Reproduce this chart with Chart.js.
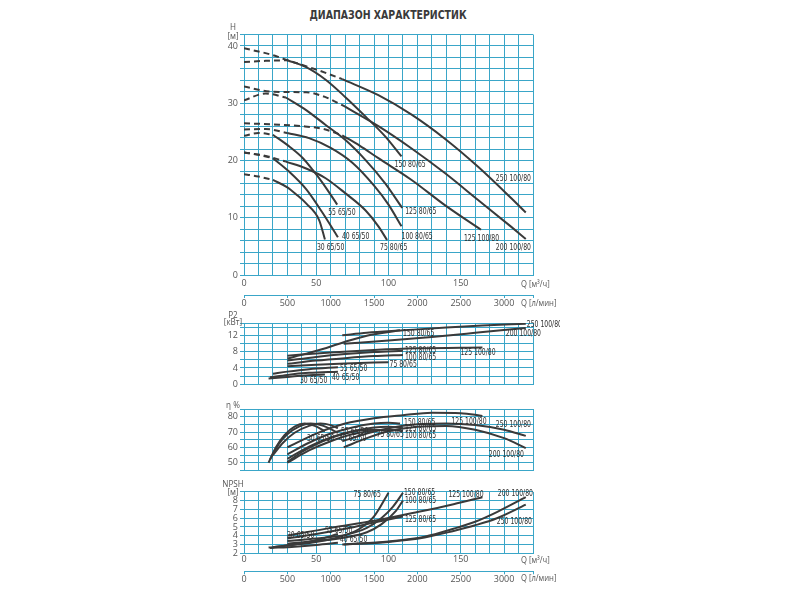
<!DOCTYPE html>
<html>
<head>
<meta charset="utf-8">
<script src="https://cdn.jsdelivr.net/npm/chart.js@4.4.1/dist/chart.umd.min.js"></script>
<style>
  body { margin: 0; background: #fff; }
  #wrap { position: relative; width: 800px; height: 600px; overflow: hidden; }
  canvas { position: absolute; left: 190px; }
  #title { position: absolute; left: 238px; width: 300px; top: 8px; text-align: center;
           font: bold 12px 'Liberation Sans Narrow', 'DejaVu Sans Condensed', sans-serif; color: #3a3a3a;
           transform: scaleX(0.87); }
</style>
</head>
<body>
<div id="wrap">
  <div id="title">ДИАПАЗОН ХАРАКТЕРИСТИК</div>
  <canvas id="hChart" width="370" height="312" style="top:0"></canvas>
  <canvas id="pChart" width="370" height="90" style="top:305px"></canvas>
  <canvas id="etaChart" width="370" height="85" style="top:395px"></canvas>
  <canvas id="npshChart" width="370" height="122" style="top:478px"></canvas>
</div>
<script>
var MODELS = ['30 65/50', '40 65/50', '55 65/50', '75 80/65', '100 80/65',
              '125 80/65', '150 80/65', '125 100/80', '200 100/80', '250 100/80'];

// Q-H, working range (m3/h, m)
var H_Q = [[20, 30, 36, 43, 52, 56], [20, 31, 43, 54, 65], [20, 31.6, 40.8, 47.7, 54.6, 64.5],
           [29, 43, 56.5, 70, 84, 93, 99], [30, 45, 60, 75, 90, 100, 109],
           [29, 43, 56.5, 70, 84, 97.7, 109.5], [30, 43, 56.5, 70, 84, 97.7, 109],
           [68, 80, 93, 116, 139, 164], [70, 93, 116, 139, 162, 185, 195],
           [68, 93, 116, 139, 162, 185, 195]];
var H_VAL = [[16.6, 15.3, 14.1, 12.5, 9.6, 6.2], [20.4, 18.1, 15.0, 11.0, 6.6], [24.5, 22.4, 20.4, 18.3, 16.0, 12.3],
             [19.8, 18.6, 16.9, 14.3, 11.3, 8.5, 6.1], [24.8, 23.9, 22.2, 19.6, 15.6, 12.3, 8.5],
             [31.0, 28.8, 26.2, 23.6, 20.1, 16.0, 11.7], [37.5, 36.3, 34.1, 31.1, 27.7, 24.2, 20.7],
             [24.4, 22.6, 20.4, 16.6, 12.2, 7.9], [29.4, 26.0, 22.1, 17.8, 13.1, 8.4, 6.3],
             [34.2, 31.4, 28.0, 23.8, 18.9, 13.4, 10.9]];
// Q-H, dashed start of each curve
var H_DASH_Q = [[0, 10, 20], [0, 10, 20], [0, 10, 20], [0, 15, 29], [0, 15, 30], [0, 15, 29],
                [0, 15, 30], [0, 20, 40, 55, 68], [0, 20, 43, 56, 70], [0, 20, 29, 45, 56.5, 68]];
var H_DASH_VAL = [[17.6, 17.2, 16.6], [21.4, 21.0, 20.4], [24.3, 24.8, 24.5], [21.4, 20.8, 19.8],
                  [25.4, 25.5, 24.8], [30.5, 31.7, 31.0], [37.2, 37.4, 37.5],
                  [26.5, 26.3, 26.0, 25.5, 24.4], [32.9, 32.0, 31.9, 31.1, 29.4],
                  [39.6, 38.4, 37.6, 36.3, 35.3, 34.2]];

// Q-P2 (kW)
var P2_Q = [[17, 30, 45, 56], [18, 30, 45, 65], [20, 30, 45, 65], [30, 50, 70, 100],
            [30, 50, 70, 90, 110], [30, 50, 70, 90, 110], [30, 43, 57, 69, 85, 108],
            [30, 60, 90, 120, 165], [69, 100, 130, 160, 195], [68, 85, 110, 140, 165, 195]];
var P2_VAL = [[1.4, 1.8, 2.2, 2.4], [1.7, 2.3, 2.8, 3.1], [2.6, 3.1, 3.7, 4.2], [4.4, 4.8, 5.1, 5.4],
              [5.0, 5.8, 6.4, 6.9, 7.2], [5.8, 6.7, 7.4, 7.9, 8.2], [6.3, 7.5, 8.9, 10.3, 11.9, 13.2],
              [7.0, 7.8, 8.4, 8.8, 9.0], [9.9, 10.7, 11.6, 12.6, 13.8], [12.0, 12.6, 13.2, 13.9, 14.4, 14.8]];

// Q-efficiency (%)
var ETA_Q = [[17, 22, 28, 35, 42, 49, 56], [18, 24, 30, 38, 46, 55, 65], [20, 27, 35, 45, 53, 60, 65],
             [30, 40, 50, 60, 70, 80, 90, 100], [30, 45, 60, 75, 90, 100, 110],
             [30, 45, 60, 75, 90, 100, 110], [30, 45, 60, 75, 90, 100, 108],
             [30, 50, 70, 90, 110, 130, 150, 165], [69, 85, 100, 120, 140, 160, 180, 195],
             [68, 85, 100, 120, 140, 160, 180, 195]];
var ETA_VAL = [[50, 60, 68, 73.5, 75.5, 74, 70.5], [52, 62, 68.5, 73.5, 75.5, 74, 69.5],
               [55, 63, 69.5, 74, 75.5, 74.5, 72.5], [50.5, 57, 62, 66, 69, 71, 71.5, 70.5],
               [50, 58, 64, 68.5, 71, 71.5, 70.5], [52.5, 60.5, 66.5, 70.5, 73, 73.5, 72.5],
               [55.5, 63, 69, 73, 75.5, 76, 75.5], [60, 69, 75.5, 79, 81, 82.6, 82.3, 80.5],
               [60, 66, 70.5, 73.5, 74, 71.5, 66, 59.5], [64, 69, 72.5, 75, 75.5, 74.5, 71.5, 67.5]];

// Q-NPSH (m)
var NPSH_Q = [[17, 30, 45, 56], [18, 35, 50, 65], [20, 35, 50, 65], [30, 50, 65, 80, 90, 100],
              [30, 50, 70, 85, 95, 105, 110], [30, 50, 70, 90, 110], [30, 50, 70, 85, 95, 103, 110],
              [30, 60, 90, 120, 145, 165], [69, 100, 125, 145, 160, 175, 195],
              [68, 100, 125, 145, 160, 175, 195]];
var NPSH_VAL = [[2.65, 2.9, 3.3, 3.7], [2.6, 2.75, 2.95, 3.2], [2.7, 3.0, 3.5, 4.2], [2.9, 3.3, 3.8, 4.8, 6.2, 8.9],
                [3.1, 3.4, 3.8, 4.4, 5.3, 6.8, 8.0], [3.7, 4.2, 4.8, 5.5, 6.2], [3.4, 3.7, 4.1, 4.9, 6.0, 7.3, 8.9],
                [4.0, 4.9, 5.7, 6.7, 7.6, 8.4], [3.0, 3.35, 3.9, 4.8, 5.6, 6.7, 8.4],
                [3.0, 3.3, 3.8, 4.55, 5.2, 6.0, 7.55]];

// tick labels
var Q_TICKS = [0, 50, 100, 150];
var QL_TICKS = [0, 500, 1000, 1500, 2000, 2500, 3000];
var H_TICKS = [0, 10, 20, 30, 40];
var P2_TICKS = [0, 4, 8, 12];
var ETA_TICKS = [50, 60, 70, 80];
var NPSH_TICKS = [2, 3, 4, 5, 6, 7, 8];

// where each curve name sits, px from the curve end
var H_LBL = [[-8, 8], [4, 0], [-9, 8], [-7, 8], [0, 10], [3, 4], [-7, 8], [-17, 9], [-30, 9], [-30, -34]];
var P2_LBL = [[-25, 6], [-6, 6], [2, 2], [1, 3], [2, 3], [2, 0], [3, 3], [-22, 5], [-20, 6], [1, 1]];
var ETA_LBL = [[-18, 8], [1, 6], [3, 4], [-12, 4], [2, 5], [2, 1], [4, -1], [-31, 6], [-37, 7], [-30, -11]];
var NPSH_LBL = [[-38, -3], [2, -3], [-13, -3], [-35, 2], [2, 0], [2, 3], [1, 0], [-34, -2], [-28, -3], [-29, 17]];

var GRID = '#3aa6c8';
var LINE = '#3a3a3a';
var TICK = '#555';
var SANS = "'Open Sans', 'DejaVu Sans', sans-serif";
var NARROW = "'Liberation Sans Narrow', 'DejaVu Sans Condensed', sans-serif";
var TICK_FONT = { family: SANS, size: 9 };

function gridSteps(min, max, step) {
    var t = [];
    for (var v = min; v < max + 1e-6; v += step) t.push({ value: Math.round(v * 1000) / 1000 });
    if (t[t.length - 1].value < max) t.push({ value: max });
    return t;
}

function curveSets(qs, vals, dash) {
    return qs.map(function (q, i) {
        return {
            data: q.map(function (x, k) { return { x: x, y: vals[i][k] }; }),
            borderColor: LINE,
            borderWidth: 2,
            borderDash: dash ? [6, 4] : [],
            pointRadius: 0,
            cubicInterpolationMode: 'monotone',
            fill: false
        };
    });
}

function narrowText(ctx, text, x, y, sx) {
    ctx.save();
    ctx.translate(x, y);
    ctx.scale(sx, 1);
    ctx.fillText(text, 0, 0);
    ctx.restore();
}

// curve names + axis unit text
function textPlugin(qs, vals, offs, units, qUnitY) {
    return {
        id: 'curveText',
        afterDatasetsDraw: function (chart) {
            var ctx = chart.ctx, x = chart.scales.x, y = chart.scales.y, area = chart.chartArea;
            ctx.save();
            ctx.fillStyle = '#2e2e2e';
            ctx.font = '8.5px ' + NARROW;
            ctx.textBaseline = 'middle';
            ctx.textAlign = 'left';
            qs.forEach(function (q, i) {
                var last = q.length - 1;
                narrowText(ctx, MODELS[i], x.getPixelForValue(q[last]) + offs[i][0],
                           y.getPixelForValue(vals[i][last]) + offs[i][1], 0.8);
            });
            ctx.fillStyle = TICK;
            ctx.font = '9px ' + SANS;
            ctx.textAlign = 'center';
            units.forEach(function (u) { narrowText(ctx, u[0], area.left - 11, area.top + u[1], 0.9); });
            if (qUnitY) {
                ctx.textAlign = 'left';
                narrowText(ctx, 'Q [м³/ч]', area.right - 12, area.bottom + qUnitY[0], 0.85);
                narrowText(ctx, 'Q [л/мин]', area.right - 12, area.bottom + qUnitY[1], 0.85);
            }
            ctx.restore();
        }
    };
}

function yAxis(min, max, step, labels) {
    return {
        min: min, max: max,
        afterBuildTicks: function (a) { a.ticks = gridSteps(min, max, step); },
        afterFit: function (a) { a.width = 54; },
        grid: { color: GRID, tickLength: 4 },
        border: { color: GRID },
        ticks: { autoSkip: false, padding: 2, color: TICK, font: TICK_FONT,
                 callback: function (v) { return labels.indexOf(v) >= 0 ? v : ''; } }
    };
}

function xAxis(showLabels, height, pad) {
    return {
        type: 'linear', position: 'bottom', weight: 0, min: 0, max: 200,
        afterBuildTicks: function (a) { a.ticks = gridSteps(0, 200, 10); },
        afterFit: function (a) { a.height = height; },
        grid: { color: GRID, drawTicks: false },
        border: { color: GRID },
        ticks: { display: showLabels, autoSkip: false, maxRotation: 0, padding: pad, color: TICK, font: TICK_FONT,
                 callback: function (v) { return Q_TICKS.indexOf(v) >= 0 ? v : ''; } }
    };
}

function lminAxis(height) {
    var end = 200 * 1000 / 60;
    return {
        type: 'linear', position: 'bottom', weight: 1, min: 0, max: end,
        afterBuildTicks: function (a) { a.ticks = QL_TICKS.concat([end]).map(function (v) { return { value: v }; }); },
        afterFit: function (a) { a.height = height; },
        grid: { drawOnChartArea: false, color: GRID, tickLength: 3 },
        border: { color: GRID },
        ticks: { autoSkip: false, maxRotation: 0, padding: 0, color: TICK, font: TICK_FONT,
                 callback: function (v) { return QL_TICKS.indexOf(v) >= 0 ? v : ''; } }
    };
}

function baseOptions(padding, scales) {
    return {
        responsive: false,
        animation: false,
        devicePixelRatio: 1,
        layout: { padding: padding },
        plugins: { legend: { display: false }, tooltip: { enabled: false } },
        scales: scales
    };
}

// H chart
var hChart = new Chart(document.getElementById('hChart'), {
    type: 'line',
    data: { datasets: curveSets(H_DASH_Q, H_DASH_VAL, true).concat(curveSets(H_Q, H_VAL, false)) },
    options: baseOptions({ top: 34.5, right: 27, bottom: 0, left: 0 }, {
        x: xAxis(true, 20, 3),
        x2: lminAxis(17),
        y: yAxis(0, 42, 2, H_TICKS)
    }),
    plugins: [textPlugin(H_Q, H_VAL, H_LBL, [['H', -7], ['[м]', 2]], [9, 28])]
});

// P2 chart
var pChart = new Chart(document.getElementById('pChart'), {
    type: 'line',
    data: { datasets: curveSets(P2_Q, P2_VAL, false) },
    options: baseOptions({ top: 18, right: 27, bottom: 10.7, left: 0 }, {
        x: xAxis(false, 0, 0),
        y: yAxis(0, 15, 2, P2_TICKS)
    }),
    plugins: [textPlugin(P2_Q, P2_VAL, P2_LBL, [['P2', -8], ['[кВт]', -1]])]
});

// efficiency chart
var etaChart = new Chart(document.getElementById('etaChart'), {
    type: 'line',
    data: { datasets: curveSets(ETA_Q, ETA_VAL, false) },
    options: baseOptions({ top: 14, right: 27, bottom: 9.6, left: 0 }, {
        x: xAxis(false, 0, 0),
        y: yAxis(45, 85, 5, ETA_TICKS)
    }),
    plugins: [textPlugin(ETA_Q, ETA_VAL, ETA_LBL, [['η %', -4]])]
});

// NPSH chart
var npshChart = new Chart(document.getElementById('npshChart'), {
    type: 'line',
    data: { datasets: curveSets(NPSH_Q, NPSH_VAL, false) },
    options: baseOptions({ top: 13.9, right: 27, bottom: 11.7, left: 0 }, {
        x: xAxis(true, 18, 1),
        x2: lminAxis(17),
        y: yAxis(2, 9, 1, NPSH_TICKS)
    }),
    plugins: [textPlugin(NPSH_Q, NPSH_VAL, NPSH_LBL, [['NPSH', -7], ['[м]', 1]], [7, 25])]
});
</script>
</body>
</html>
